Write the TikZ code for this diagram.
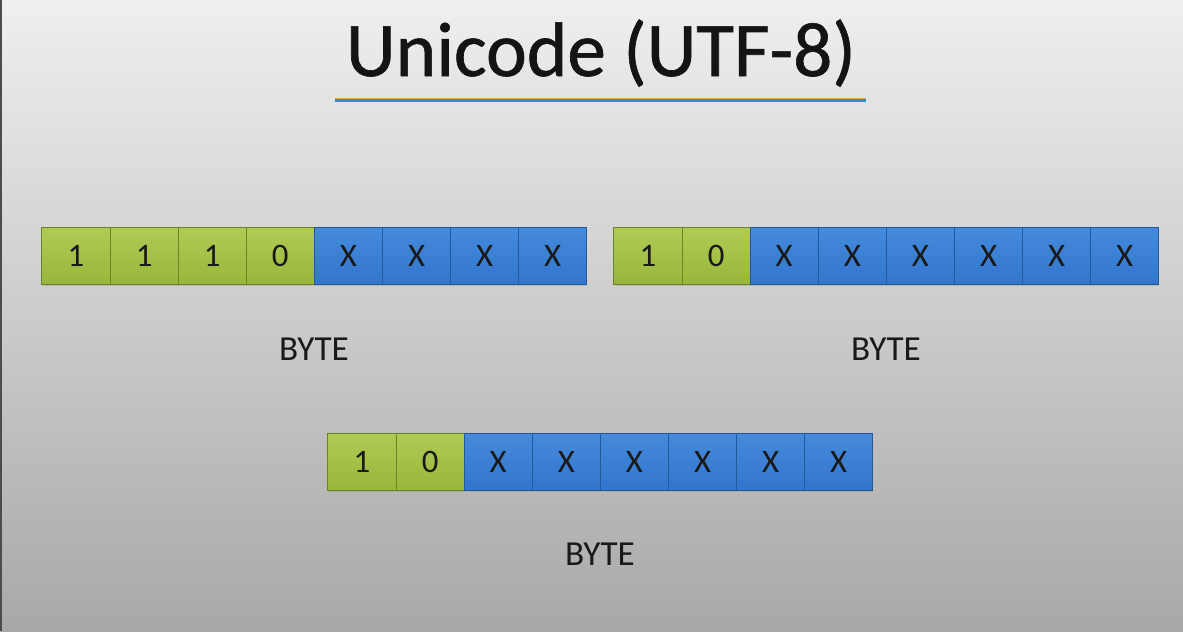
\documentclass[tikz,border=0pt]{standalone}
\usepackage{fontspec}
\setmainfont{Carlito}
\newfontfamily\titlefont[FakeBold=0.8]{Carlito}
\usepackage{xcolor}
\usepackage{tikz}
\usetikzlibrary{positioning,shadows}
\definecolor{bgtop}{HTML}{EFEFEF}
\definecolor{bgmid}{HTML}{DDDDDC}
\definecolor{bgbot}{HTML}{A9A8A6}
\definecolor{greenc}{HTML}{98B73A}
\definecolor{greenhi}{HTML}{B0CB55}
\definecolor{greend}{HTML}{6C8428}
\definecolor{bluec}{HTML}{3176CC}
\definecolor{bluehi}{HTML}{468ADB}
\definecolor{blued}{HTML}{22589C}
\definecolor{linec}{HTML}{2E8FD0}
\definecolor{linet}{HTML}{F0A030}
\tikzset{
  cell/.style={minimum width=2.043cm,minimum height=1.71cm,inner sep=0pt,outer sep=0pt,
    line width=0.8pt,font=\fontsize{28}{28}\selectfont,text=black!90,
    drop shadow={shadow xshift=0.6pt,shadow yshift=-1.4pt,opacity=0.3}},
  bitg/.style={cell,draw=greend,top color=greenhi,bottom color=greenc},
  bitx/.style={cell,draw=blued,top color=bluehi,bottom color=bluec},
  lbl/.style={font=\fontsize{30}{30}\selectfont,text=black!90}
}
\begin{document}
\begin{tikzpicture}[x=0.03cm,y=-0.03cm]
\useasboundingbox (0,0) rectangle (1183,631);
% background
\shade[top color=bgtop,middle color=bgmid,bottom color=bgbot] (0,0) rectangle (1183,631);
\fill[black!70] (0,0) rectangle (2,631);
% title
\node[anchor=base,font=\titlefont\fontsize{66}{66}\selectfont,text=black!92] (title) at (601,76) {Unicode (UTF-8)};
\coordinate (ul) at (335,100);
\coordinate (ur) at (866,100);
\draw[linet,line width=1.4pt] ([yshift=1.1pt]ul) -- ([yshift=1.1pt]ur);
\draw[linec,line width=2.4pt] ([yshift=-0.7pt]ul) -- ([yshift=-0.7pt]ur);
% first byte: 1110xxxx
\node[bitg] (a1) at (76,255.5) {1};
\node[bitg,right=0pt of a1] (a2) {1};
\node[bitg,right=0pt of a2] (a3) {1};
\node[bitg,right=0pt of a3] (a4) {0};
\node[bitx,right=0pt of a4] (a5) {X};
\node[bitx,right=0pt of a5] (a6) {X};
\node[bitx,right=0pt of a6] (a7) {X};
\node[bitx,right=0pt of a7] (a8) {X};
\node[lbl] (la) at (314,349) {BYTE};
% second byte: 10xxxxxx
\node[bitg] (b1) at (648,255.5) {1};
\node[bitg,right=0pt of b1] (b2) {0};
\node[bitx,right=0pt of b2] (b3) {X};
\node[bitx,right=0pt of b3] (b4) {X};
\node[bitx,right=0pt of b4] (b5) {X};
\node[bitx,right=0pt of b5] (b6) {X};
\node[bitx,right=0pt of b6] (b7) {X};
\node[bitx,right=0pt of b7] (b8) {X};
\node[lbl] (lb) at (886,349) {BYTE};
% third byte: 10xxxxxx
\node[bitg] (c1) at (362,461.5) {1};
\node[bitg,right=0pt of c1] (c2) {0};
\node[bitx,right=0pt of c2] (c3) {X};
\node[bitx,right=0pt of c3] (c4) {X};
\node[bitx,right=0pt of c4] (c5) {X};
\node[bitx,right=0pt of c5] (c6) {X};
\node[bitx,right=0pt of c6] (c7) {X};
\node[bitx,right=0pt of c7] (c8) {X};
\node[lbl] (lc) at (600,554) {BYTE};
\end{tikzpicture}
\end{document}
